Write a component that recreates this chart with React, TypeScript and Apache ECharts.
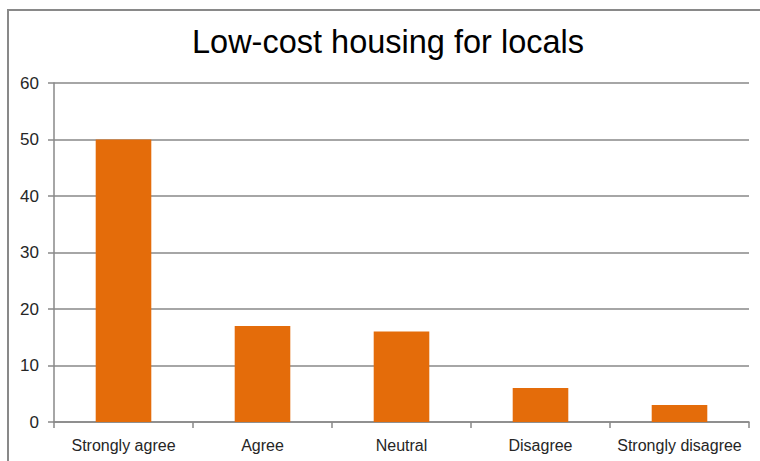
import React, { useEffect, useRef } from "react";
import * as echarts from "echarts";

const categories = ["Strongly agree", "Agree", "Neutral", "Disagree", "Strongly disagree"];
const values = [50, 17, 16, 6, 3];
const titleText = "Low-cost housing for locals";

export default function App() {
  const ref = useRef<HTMLDivElement>(null);
  useEffect(() => {
    if (!ref.current) return;
    const chart = echarts.init(ref.current, undefined, { renderer: "svg" });
    chart.setOption({
      animation: false,
      backgroundColor: "#ffffff",
      graphic: [
        {
          type: "rect",
          shape: { x: 8, y: 10, width: 800, height: 500 },
          style: { fill: "none", stroke: "#898989", lineWidth: 2 },
          silent: true,
        },
        {
          type: "text",
          x: 388,
          y: 42,
          style: {
            text: titleText,
            align: "center",
            verticalAlign: "middle",
            fontFamily: "Liberation Sans",
            fontSize: 32.5,
            fill: "#000000",
          },
          silent: true,
        },
      ],
      grid: { left: 54, top: 83, right: 11, bottom: 39 },
      xAxis: {
        type: "category",
        data: categories,
        axisLine: { lineStyle: { color: "#888888", width: 1.5 } },
        axisTick: { show: true, length: 6, lineStyle: { color: "#888888", width: 1.5 } },
        axisLabel: { interval: 0, fontFamily: "Liberation Sans", fontSize: 16, color: "#262626", margin: 15 },
      },
      yAxis: {
        type: "value",
        min: 0,
        max: 60,
        interval: 10,
        axisLine: { show: true, lineStyle: { color: "#888888", width: 1.5 } },
        axisTick: { show: true, length: 6, lineStyle: { color: "#888888", width: 1.5 } },
        axisLabel: { fontFamily: "Liberation Sans", fontSize: 17, color: "#262626", margin: 15 },
        splitLine: { show: true, lineStyle: { color: "#888888", width: 1.5 } },
      },
      series: [
        {
          type: "bar",
          data: values,
          barWidth: "40%",
          itemStyle: { color: "#E46C0A" },
        },
      ],
    });
    return () => chart.dispose();
  }, []);
  return <div ref={ref} style={{ position: "fixed", left: 0, top: 0, width: 760, height: 461 }} />;
}
